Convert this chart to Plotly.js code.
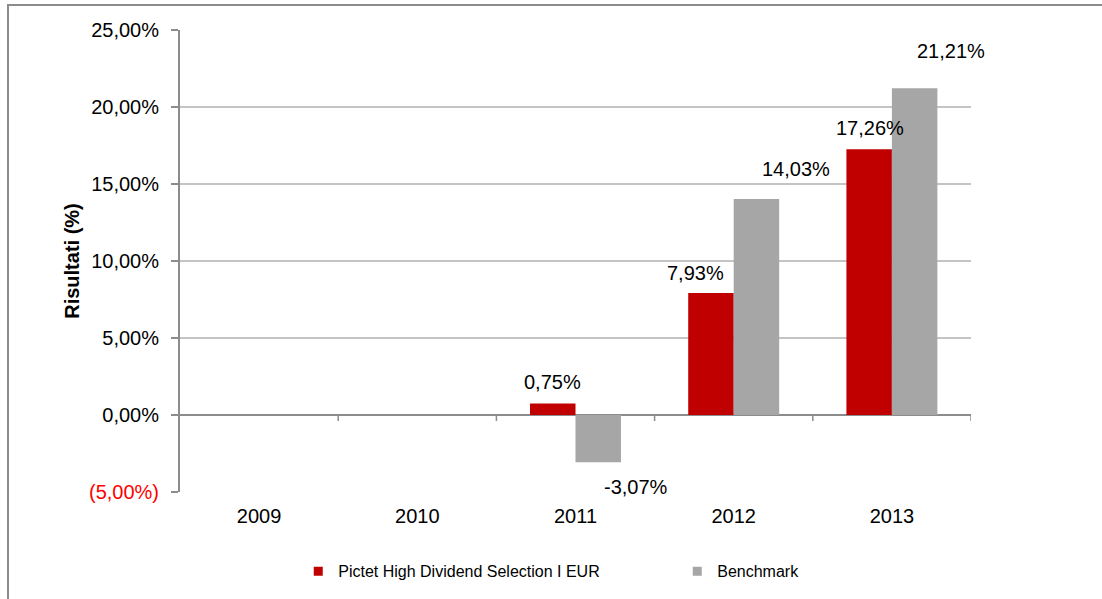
<!DOCTYPE html>
<html>
<head>
<meta charset="utf-8">
<script src="https://cdn.plot.ly/plotly-3.0.1.min.js"></script>
<style>
  html, body { margin: 0; padding: 0; background: #fff; }
  #frame { position: absolute; left: 7px; top: 4px; width: 1200px; height: 800px;
           border-left: 2px solid #8c8c8c; border-top: 2px solid #8c8c8c; }
  #chart { position: absolute; left: 0; top: 0; width: 1102px; height: 599px; }
</style>
</head>
<body>
<div id="frame"></div>
<div id="chart"></div>
<script>
// ---- data ----
const years = ['2009', '2010', '2011', '2012', '2013'];
const fundName = 'Pictet High Dividend Selection I EUR';
const benchName = 'Benchmark';
const fundValues = [null, null, 0.75, 7.93, 17.26];
const benchValues = [null, null, -3.07, 14.03, 21.21];
const yTickValues = [-5, 0, 5, 10, 15, 20, 25];

// ---- label placement (pixel offsets from category centre / bar end) ----
const fundLabelDx = [0, 0, -23.5, -38, -22];
const fundLabelDy = [0, 0, 21, 20, 21];
const benchLabelDx = [0, 0, 60.5, 62, 59.5];
const benchLabelDy = [0, 0, -25, 30, 37];

const RED = '#c00000';
const GREY = '#a6a6a6';
const FONT = 'Liberation Sans, Arial, Helvetica, sans-serif';

function fmt(v) {
  return v.toFixed(2).replace('.', ',') + '%';
}
function tickFmt(v) {
  if (v < 0) return '<span style="color:#ff0000">(' + Math.abs(v).toFixed(2).replace('.', ',') + '%)</span>';
  return v.toFixed(2).replace('.', ',') + '%';
}

const traces = [
  { type: 'bar', x: years, y: fundValues, name: fundName, marker: { color: RED }, showlegend: false, hoverinfo: 'x+y' },
  { type: 'bar', x: years, y: benchValues, name: benchName, marker: { color: GREY }, showlegend: false, hoverinfo: 'x+y' },
  // legend entries with small square symbols
  { type: 'scatter', mode: 'markers', x: [null], y: [null], name: fundName,
    marker: { symbol: 'square', size: 9, color: RED }, showlegend: true },
  { type: 'scatter', mode: 'markers', x: [null], y: [null], name: benchName,
    marker: { symbol: 'square', size: 9, color: GREY }, showlegend: true }
];

const annotations = [];
for (let i = 0; i < years.length; i++) {
  if (fundValues[i] !== null) {
    annotations.push({ xref: 'x', yref: 'y', x: i, y: fundValues[i], text: fmt(fundValues[i]),
      showarrow: false, xanchor: 'center', yanchor: 'middle',
      xshift: fundLabelDx[i], yshift: fundLabelDy[i], font: { family: FONT, size: 20, color: '#000000' } });
  }
  if (benchValues[i] !== null) {
    annotations.push({ xref: 'x', yref: 'y', x: i, y: benchValues[i], text: fmt(benchValues[i]),
      showarrow: false, xanchor: 'center', yanchor: 'middle',
      xshift: benchLabelDx[i], yshift: benchLabelDy[i], font: { family: FONT, size: 20, color: '#000000' } });
  }
}

// small tick marks along the zero line at category boundaries
const shapes = [];
for (let k = 1; k <= years.length; k++) {
  shapes.push({ type: 'line', xref: 'x', yref: 'y', ysizemode: 'pixel', yanchor: 0,
    x0: k - 0.5, x1: k - 0.5, y0: 0, y1: -6, line: { color: '#8c8c8c', width: 1.5 }, layer: 'below' });
}

const layout = {
  width: 1102, height: 599,
  margin: { l: 180, r: 131, t: 30, b: 106 },
  paper_bgcolor: 'rgba(0,0,0,0)',
  plot_bgcolor: '#ffffff',
  font: { family: FONT, size: 20, color: '#000' },
  barmode: 'group',
  bargap: 0.425,
  bargroupgap: 0,
  xaxis: {
    type: 'category', categoryorder: 'array', categoryarray: years,
    range: [-0.5, years.length - 0.5],
    showgrid: false, showline: false, zeroline: false, ticks: '',
    ticklabelstandoff: 10,
    tickfont: { family: FONT, size: 20, color: '#000' }
  },
  yaxis: {
    range: [-5, 25], tickvals: yTickValues, ticktext: yTickValues.map(tickFmt),
    showgrid: true, gridcolor: '#c4c4c4', gridwidth: 1.5,
    zeroline: true, zerolinecolor: '#8c8c8c', zerolinewidth: 2,
    showline: true, linecolor: '#8c8c8c', linewidth: 2,
    ticks: 'outside', ticklen: 7, tickwidth: 1.5, tickcolor: '#8c8c8c',
    ticklabelstandoff: 8,
    tickfont: { family: FONT, size: 20, color: '#000' },
    title: { text: '<b>Risultati (%)</b>', font: { family: FONT, size: 20, color: '#000' }, standoff: 4 }
  },
  legend: {
    orientation: 'h', x: 0.1495, xanchor: 'left', y: -0.169, yanchor: 'middle',
    entrywidth: 334, entrywidthmode: 'pixels',
    font: { family: FONT, size: 16, color: '#000' },
    bgcolor: 'rgba(0,0,0,0)'
  },
  annotations: annotations,
  shapes: shapes
};

Plotly.newPlot('chart', traces, layout, { displayModeBar: false, staticPlot: true });
</script>
</body>
</html>
